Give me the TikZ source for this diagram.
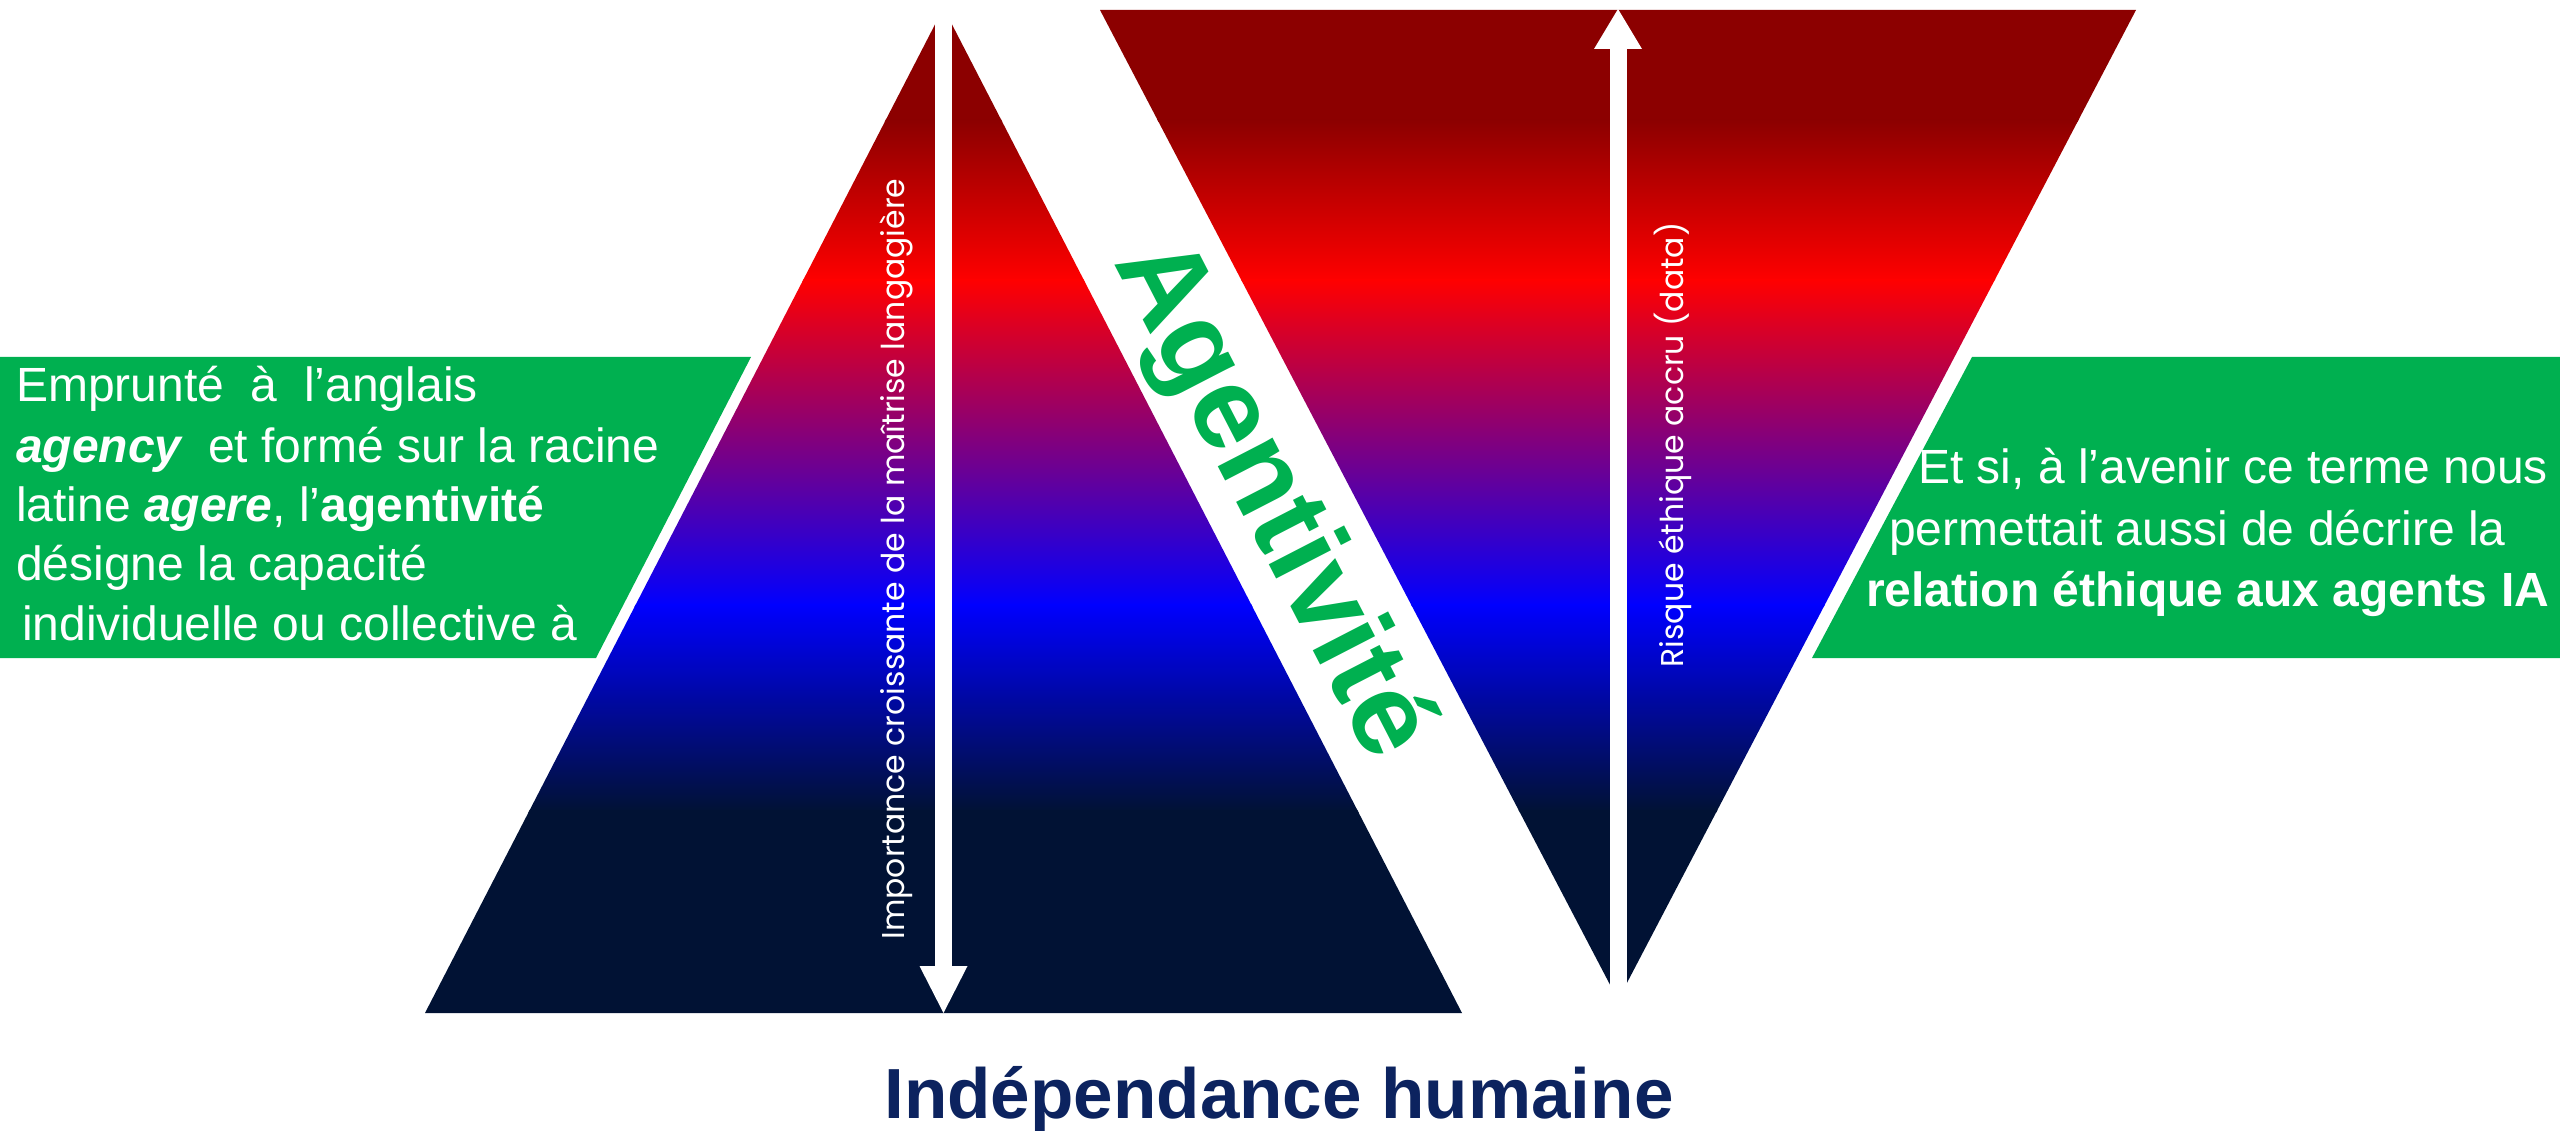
\documentclass[tikz,border=0pt]{standalone}
\usepackage{fontspec}
\setmainfont{Liberation Sans}
\newfontfamily\geofont{Poppins}
\definecolor{dred}{RGB}{140,0,0}
\definecolor{bred}{RGB}{255,0,0}
\definecolor{bblue}{RGB}{0,0,255}
\definecolor{navy}{RGB}{1,18,52}
\definecolor{boxgreen}{RGB}{0,176,80}
\definecolor{titleblue}{RGB}{12,35,95}
\begin{document}
\begin{tikzpicture}[x=1pt,y=-1pt,
  shaft/.style={draw=white,line width=17pt},
  headtip/.style={fill=white},
  greenbox/.style={fill=boxgreen},
  vlabel/.style={text=white,inner sep=0pt,rotate=90,font=\geofont\fontsize{31.5}{36}\selectfont},
  btext/.style={text=white,anchor=base west,inner sep=0pt,font=\fontsize{48}{60}\selectfont},
]
\useasboundingbox (0,0) rectangle (2560,1131);
% triangle corners
\coordinate (LA) at (943.5,8);
\coordinate (LB) at (425,1013);
\coordinate (LC) at (1462,1013);
\coordinate (RA) at (1100,10);
\coordinate (RB) at (2136,10);
\coordinate (RC) at (1618,1000);
% gradient triangles
\begin{scope}
  \clip (LA) -- (LC) -- (LB) -- cycle (RA) -- (RB) -- (RC) -- cycle;
  \fill[dred] (400,0) rectangle (2200,122);
  \shade[top color=dred,bottom color=bred] (400,120) rectangle (2200,282);
  \shade[top color=bred,bottom color=bblue] (400,280) rectangle (2200,606);
  \shade[top color=bblue,bottom color=navy] (400,604) rectangle (2200,812);
  \fill[navy] (400,810) rectangle (2200,1020);
\end{scope}
% green boxes
\fill[greenbox] (0,357) -- (751,357) -- (596,658) -- (0,658) -- cycle;
\fill[greenbox] (1972,357) -- (2560,357) -- (2560,658) -- (1812,658) -- cycle;
% arrows
\coordinate (LTop) at (943.5,4);
\coordinate (LHead) at (943.5,967);
\coordinate (LTip) at (943.5,1013);
\draw[shaft] (LTop) -- (LHead);
\fill[headtip] (919.5,966) -- (967.5,966) -- (LTip) -- cycle;
\coordinate (RBot) at (1618,1002);
\coordinate (RHead) at (1618,48);
\coordinate (RTip) at (1618,9);
\draw[shaft] (RBot) -- (RHead);
\fill[headtip] (1594,49) -- (1642,49) -- (RTip) -- cycle;
% vertical labels
\node[vlabel] (limp) at (896,559) {Importance croissante de la maîtrise langagière};
\node[vlabel] (lrisk) at (1673,445) {Risque éthique accru (data)};
% Agentivite
\node[text=boxgreen,inner sep=0pt,rotate=-62.7,font=\bfseries\fontsize{117}{124}\selectfont] (agent) at (1270,500) {Agentivité};
% left box text
\node[btext] (l1) at (16,402) {Emprunté~ à~ l’anglais};
\node[btext] (l2) at (16,462) {{\bfseries\itshape agency}~ et formé sur la racine};
\node[btext] (l3) at (16,521) {latine {\bfseries\itshape agere}, l’{\bfseries agentivité}};
\node[btext] (l4) at (16,580) {désigne la capacité};
\node[btext] (l5) at (22,640) {individuelle ou collective à};
% right box text
\node[btext] (r1) at (1918,483) {Et si, à l’avenir ce terme nous};
\node[btext] (r2) at (1889,545) {permettait aussi de décrire la};
\node[btext] (r3) at (1866,606) {\bfseries relation éthique aux agents IA~?};
% title
\node[text=titleblue,anchor=base,inner sep=0pt,font=\bfseries\fontsize{71}{80}\selectfont] (title) at (1279,1118) {Indépendance humaine};
\end{tikzpicture}
\end{document}
